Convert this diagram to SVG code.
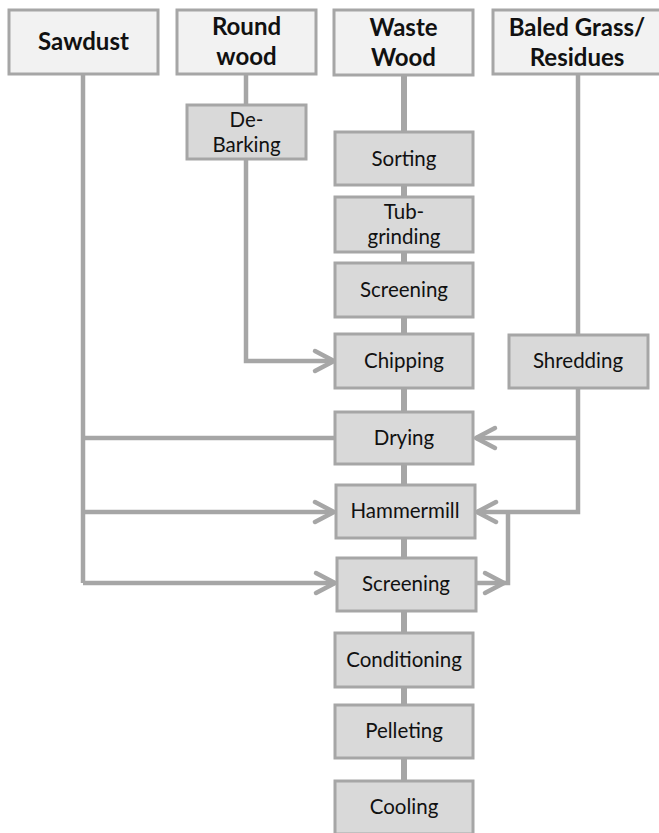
<svg xmlns="http://www.w3.org/2000/svg" width="659" height="833" viewBox="0 0 659 833">
<style>
.src{fill:#f2f2f2;stroke:#a6a6a6;stroke-width:3}
.step{fill:#d9d9d9;stroke:#a6a6a6;stroke-width:3}
.h{font-family:Lato,"Open Sans",sans-serif;font-weight:bold;font-size:24px;fill:#111;text-anchor:middle}
.t{font-family:Lato,"Open Sans",sans-serif;font-size:20.5px;fill:#111;text-anchor:middle}
.ln{fill:none;stroke:#a6a6a6;stroke-width:4.5;stroke-linejoin:miter}
.main{fill:none;stroke:#a6a6a6;stroke-width:6}
.ah{fill:none;stroke:#a6a6a6;stroke-width:4.5;stroke-linecap:round;stroke-linejoin:round}
</style>
<rect width="659" height="833" fill="#ffffff"/>
<g id="connectors">
  <path class="main" d="M404 75V132M404 185V197M404 252V263M404 317V334M404 388V412M404 464V485M404 538V558M404 611V633M404 687V705M404 758V781"/>
  <path class="ln" d="M83 74V583M83 438H335M83 512H333M83 583H335"/>
  <path class="ln" d="M246 74V104M246 159V361H333"/>
  <path class="ln" d="M578 74V335M578 388V512H477M578 438H476"/>
  <path class="ln" d="M476 583H508V510"/>
  <polyline class="ah" points="315,351 334,361 315,371"/>
  <polyline class="ah" points="315,502 334,512 315,522"/>
  <polyline class="ah" points="316,573 335,583 316,593"/>
  <polyline class="ah" points="495,428 476,438 495,448"/>
  <polyline class="ah" points="496,502 477,512 496,522"/>
  <polyline class="ah" points="485,573 504,583 485,593"/>
</g>
<g id="sawdust"><rect class="src" x="9" y="10" width="149" height="64"/><text class="h" x="83.5" y="50">Sawdust</text></g>
<g id="roundwood"><rect class="src" x="177" y="10" width="139" height="64"/><text class="h" x="246.5" y="35">Round</text><text class="h" x="246.5" y="65">wood</text></g>
<g id="wastewood"><rect class="src" x="334" y="10" width="139" height="65"/><text class="h" x="403.5" y="36">Waste</text><text class="h" x="403.5" y="66">Wood</text></g>
<g id="baledgrass"><rect class="src" x="493" y="10" width="170" height="64"/><text class="h" x="577" y="36">Baled Grass/</text><text class="h" x="577" y="66">Residues</text></g>
<g id="debarking"><rect class="step" x="187" y="105" width="119" height="54"/><text class="t" x="246.5" y="127">De-</text><text class="t" x="246.5" y="152">Barking</text></g>
<g id="sorting"><rect class="step" x="335" y="132" width="138" height="53"/><text class="t" x="404" y="166">Sorting</text></g>
<g id="tubgrinding"><rect class="step" x="335" y="197" width="138" height="55"/><text class="t" x="404" y="219">Tub-</text><text class="t" x="404" y="244">grinding</text></g>
<g id="screening1"><rect class="step" x="335" y="263" width="138" height="54"/><text class="t" x="404" y="297">Screening</text></g>
<g id="chipping"><rect class="step" x="335" y="334" width="138" height="54"/><text class="t" x="404" y="368">Chipping</text></g>
<g id="shredding"><rect class="step" x="509" y="335" width="139" height="53"/><text class="t" x="578" y="368">Shredding</text></g>
<g id="drying"><rect class="step" x="335" y="412" width="138" height="52"/><text class="t" x="404" y="445">Drying</text></g>
<g id="hammermill"><rect class="step" x="336" y="485" width="139" height="53"/><text class="t" x="405" y="518">Hammermill</text></g>
<g id="screening2"><rect class="step" x="337" y="558" width="139" height="53"/><text class="t" x="406" y="591">Screening</text></g>
<g id="conditioning"><rect class="step" x="335" y="633" width="138" height="54"/><text class="t" x="404" y="667">Conditioning</text></g>
<g id="pelleting"><rect class="step" x="335" y="705" width="138" height="53"/><text class="t" x="404" y="738">Pelleting</text></g>
<g id="cooling"><rect class="step" x="335" y="781" width="138" height="53"/><text class="t" x="404" y="814">Cooling</text></g>
</svg>
